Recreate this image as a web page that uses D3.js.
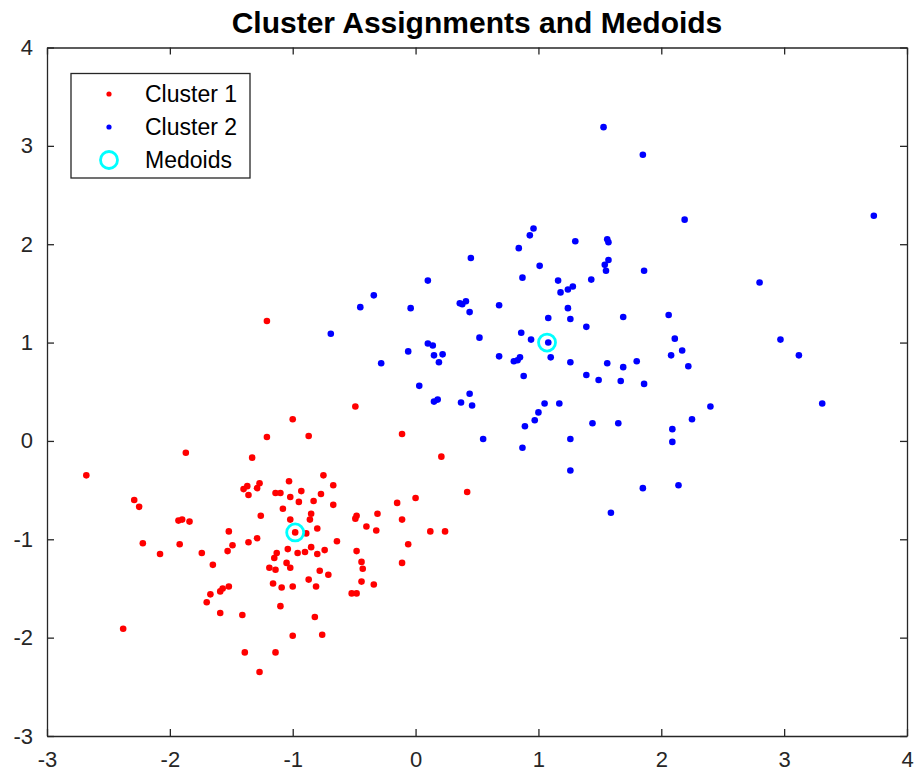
<!DOCTYPE html>
<html>
<head>
<meta charset="utf-8">
<script src="https://cdn.jsdelivr.net/npm/d3@7"></script>
<style>
  html, body { margin: 0; padding: 0; background: #fff; }
  svg { display: block; font-family: "Liberation Sans", Arial, sans-serif; }
</style>
</head>
<body>
<svg id="chart" width="918" height="774"></svg>
<script>
const titleText = "Cluster Assignments and Medoids";
const xTicks = [-3, -2, -1, 0, 1, 2, 3, 4];
const yTicks = [-3, -2, -1, 0, 1, 2, 3, 4];
const legendLabels = ["Cluster 1", "Cluster 2", "Medoids"];

const cluster1X = [-2.68,-1.21,-1.87,-1.33,-2.29,-2.25,-1.40,-1.37,-1.36,-1.29,-1.27,-1.93,-1.90,-1.84,-2.22,-1.92,-2.08,-1.52,-1.49,-1.53,-1.74,-1.65,-1.36,-1.29,-1.26,-1.52,-1.57,-1.59,-1.67,-1.70,-1.59,-1.41,-2.38,-1.39,-1.27,-1.00,-0.49,-1.21,-0.87,-0.11,0.21,-0.75,-1.03,-0.67,-1.14,-1.10,-0.93,-0.77,-1.02,0.42,0.00,-0.95,-0.83,-0.67,-0.15,-1.08,-0.85,-0.86,-1.02,-0.48,-0.49,-0.31,-0.11,-0.40,-0.32,0.12,0.24,-0.80,-0.98,-0.89,-0.64,-0.06,-1.04,-0.96,-0.90,-0.85,-0.80,-0.74,-0.48,-1.13,-1.15,-1.05,-1.02,-1.19,-1.14,-0.44,-0.43,-0.11,-0.78,-0.71,-0.87,-0.44,-0.34,-1.16,-1.09,-1.00,-0.81,-0.52,-0.48,-1.10,-0.82,-1.00,-0.76,-1.14];
const cluster1Y = [-0.35,1.22,-0.12,-0.17,-0.60,-0.67,-0.49,-0.46,-0.55,-0.48,-0.43,-0.81,-0.80,-0.82,-1.04,-1.05,-1.15,-0.92,-1.06,-1.12,-1.14,-1.26,-1.03,-0.99,-0.76,-1.48,-1.50,-1.53,-1.56,-1.64,-1.75,-1.77,-1.91,-2.15,-2.35,0.22,0.35,0.04,0.05,0.07,-0.16,-0.35,-0.41,-0.45,-0.53,-0.53,-0.51,-0.54,-0.57,-0.52,-0.58,-0.62,-0.61,-0.65,-0.63,-0.69,-0.74,-0.80,-0.80,-0.76,-0.79,-0.74,-0.80,-0.87,-0.91,-0.92,-0.92,-0.89,-0.93,-0.94,-1.02,-1.05,-1.10,-1.14,-1.13,-1.08,-1.15,-1.11,-1.12,-1.14,-1.19,-1.24,-1.29,-1.29,-1.31,-1.23,-1.30,-1.24,-1.32,-1.36,-1.41,-1.43,-1.46,-1.45,-1.49,-1.48,-1.48,-1.55,-1.55,-1.68,-1.79,-1.98,-1.97,-2.15];

const cluster2X = [0.45,0.10,-0.34,-0.45,-0.04,0.36,0.41,0.38,0.44,0.68,1.53,1.85,2.19,0.96,0.93,0.84,1.30,1.56,1.57,1.01,1.57,1.54,1.55,1.86,0.87,1.16,1.18,1.24,1.28,1.43,1.24,1.08,1.26,1.69,2.06,3.73,2.80,-0.69,0.52,0.10,0.14,-0.06,0.15,0.22,0.19,0.68,-0.28,0.03,0.15,0.18,0.44,0.37,0.46,0.55,1.39,0.86,0.94,1.08,2.11,2.17,2.08,2.22,0.80,0.83,0.85,1.10,1.26,1.56,1.69,1.80,0.88,1.39,1.49,1.67,1.86,1.05,1.17,1.00,0.97,0.89,1.44,1.65,2.25,2.09,2.09,1.26,0.87,1.26,1.85,2.14,1.59,2.97,3.12,2.40,3.31];
const cluster2Y = [1.86,1.63,1.48,1.36,1.35,1.40,1.42,1.39,1.31,1.38,3.19,2.91,2.25,2.16,2.09,1.96,2.03,2.05,2.02,1.78,1.84,1.79,1.73,1.73,1.66,1.63,1.51,1.54,1.57,1.64,1.35,1.25,1.24,1.26,1.28,2.29,1.61,1.09,1.05,0.99,0.97,0.91,0.87,0.88,0.80,0.86,0.79,0.56,0.40,0.42,0.48,0.39,0.36,0.02,1.16,1.10,1.03,1.00,1.04,0.92,0.87,0.76,0.81,0.82,0.85,0.85,0.80,0.79,0.75,0.81,0.66,0.67,0.62,0.61,0.58,0.38,0.38,0.29,0.21,0.15,0.18,0.18,0.22,0.12,-0.01,0.02,-0.07,-0.30,-0.48,-0.45,-0.73,1.03,0.87,0.35,0.38];

const medoidX = [-0.98, 1.07];
const medoidY = [-0.93, 1.00];

const colors = { c1: "#ff0000", c2: "#0000ff", med: "#00ffff", axis: "#262626" };

const svg = d3.select("#chart");
const plotL = 47, plotR = 907, plotT = 47.5, plotB = 736;
const x = d3.scaleLinear().domain([-3, 4]).range([plotL, plotR]);
const y = d3.scaleLinear().domain([-3, 4]).range([plotB, plotT]);

svg.append("rect").attr("x", 0).attr("y", 0).attr("width", 918).attr("height", 774).attr("fill", "#fff");

const tickFont = 22;

function styleAxis(g) {
  g.selectAll(".domain").attr("stroke", colors.axis).attr("stroke-width", 1.3);
  g.selectAll(".tick line").attr("stroke", colors.axis).attr("stroke-width", 1.3);
  g.selectAll("text").attr("fill", colors.axis).style("font-size", tickFont + "px").style("font-family", "'Liberation Sans', Arial, sans-serif");
}

svg.append("g").attr("transform", `translate(0,${plotB})`)
  .call(d3.axisBottom(x).tickValues(xTicks).tickFormat(d => String(d)).tickSizeInner(-7).tickSizeOuter(0).tickPadding(15))
  .call(styleAxis);
svg.append("g").attr("transform", `translate(0,${plotT})`)
  .call(d3.axisTop(x).tickValues(xTicks).tickFormat("").tickSizeInner(-7).tickSizeOuter(0))
  .call(styleAxis);
svg.append("g").attr("transform", `translate(${plotL},0)`)
  .call(d3.axisLeft(y).tickValues(yTicks).tickFormat(d => String(d)).tickSizeInner(-7).tickSizeOuter(0).tickPadding(14))
  .call(styleAxis);
svg.append("g").attr("transform", `translate(${plotR},0)`)
  .call(d3.axisRight(y).tickValues(yTicks).tickFormat("").tickSizeInner(-7).tickSizeOuter(0))
  .call(styleAxis);

const c1 = cluster1X.map((v, i) => ({ x: v, y: cluster1Y[i] }));
const c2 = cluster2X.map((v, i) => ({ x: v, y: cluster2Y[i] }));
const med = medoidX.map((v, i) => ({ x: v, y: medoidY[i] }));

svg.append("g").selectAll("circle").data(c1).join("circle")
  .attr("cx", d => x(d.x)).attr("cy", d => y(d.y)).attr("r", 3.3).attr("fill", colors.c1);
svg.append("g").selectAll("circle").data(c2).join("circle")
  .attr("cx", d => x(d.x)).attr("cy", d => y(d.y)).attr("r", 3.3).attr("fill", colors.c2);
svg.append("g").selectAll("circle").data(med).join("circle")
  .attr("cx", d => x(d.x)).attr("cy", d => y(d.y)).attr("r", 8.5)
  .attr("fill", "none").attr("stroke", colors.med).attr("stroke-width", 2.8);

svg.append("text").attr("x", (plotL + plotR) / 2).attr("y", 33)
  .attr("text-anchor", "middle").attr("fill", "#000")
  .style("font-weight", "bold").style("font-size", "30px")
  .text(titleText);

const lg = svg.append("g");
lg.append("rect").attr("x", 71).attr("y", 73.5).attr("width", 179).attr("height", 104.5)
  .attr("fill", "#fff").attr("stroke", colors.axis).attr("stroke-width", 1.3);
const rowY = [94, 127, 160];
const markerX = 109;
lg.append("circle").attr("cx", markerX).attr("cy", rowY[0]).attr("r", 2.6).attr("fill", colors.c1);
lg.append("circle").attr("cx", markerX).attr("cy", rowY[1]).attr("r", 2.6).attr("fill", colors.c2);
lg.append("circle").attr("cx", markerX).attr("cy", rowY[2]).attr("r", 8.5).attr("fill", "none").attr("stroke", colors.med).attr("stroke-width", 2.8);
legendLabels.forEach((t, i) => {
  lg.append("text").attr("x", 145).attr("y", rowY[i]).attr("dy", "0.35em")
    .attr("fill", "#000").style("font-size", "23px").text(t);
});
</script>
</body>
</html>
